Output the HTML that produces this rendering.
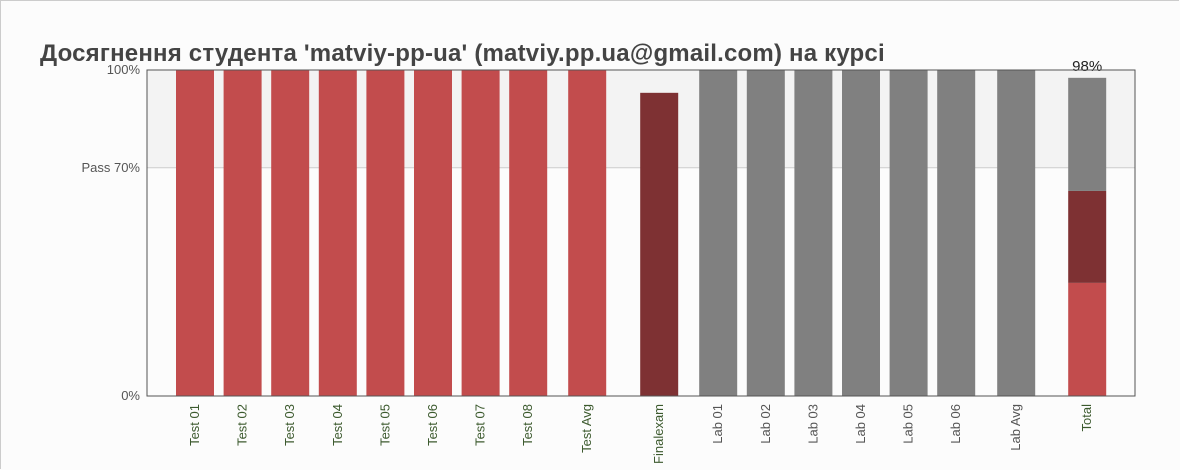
<!DOCTYPE html>
<html><head><meta charset="utf-8"><style>
body{margin:0;background:#fcfcfc;width:1180px;height:470px;overflow:hidden;font-family:"Liberation Sans","DejaVu Sans",sans-serif}
#frame{position:absolute;left:0;top:0;width:1178px;height:468px;border:1px solid #ccc;border-right:none;border-bottom:none}
</style></head><body>
<div id="frame"></div>
<svg id="chart" width="1180" height="470" style="position:absolute;left:0;top:0">
<text x="40" y="61" font-size="24" letter-spacing="0.2" font-weight="bold" fill="#444">Досягнення студента 'matviy-pp-ua' (matviy.pp.ua@gmail.com) на курсі</text>
</svg>
<script>
const categories=["Test 01","Test 02","Test 03","Test 04","Test 05","Test 06","Test 07","Test 08","Test Avg","Finalexam","Lab 01","Lab 02","Lab 03","Lab 04","Lab 05","Lab 06","Lab Avg","Total"];
const groups=["t","t","t","t","t","t","t","t","ta","f","l","l","l","l","l","l","la","tot"];
const values=[100,100,100,100,100,100,100,100,100,93,100,100,100,100,100,100,100,null];
const totalTest=34.7, totalFinal=28.2, totalLab=34.7;
const totalLabel="98%";
const yTicks=[0,70,100];
const yTickLabels=["0%","Pass 70%","100%"];
const NS="http://www.w3.org/2000/svg";
const svg=document.getElementById('chart');
const X0=147,X1=1135,Y0=70,Y1=396;
const y=v=>Y1-(Y1-Y0)*v/100;
const slot=47.6,bw=38;
const gapAfter={ta:11.4,f:24.4,l:11.4,la:12.4,tot:23.4};
const centers=[];let cx=195;
categories.forEach((c,i)=>{if(i>0){cx+=slot;if(groups[i]!==groups[i-1])cx+=gapAfter[groups[i]]||0;}centers.push(cx);});
function el(t,a){const e=document.createElementNS(NS,t);for(const k in a)e.setAttribute(k,a[k]);svg.appendChild(e);return e;}
let e=el('rect',{x:X0,y:Y0,width:X1-X0,height:y(70)-Y0,fill:'#f3f3f3'});


e=el('line',{x1:X0,x2:X1,y1:y(70),y2:y(70),stroke:'#ccc'});


const colors={t:'#c24c4d',ta:'#c24c4d',f:'#7e3133',l:'#808080',la:'#808080'};
categories.forEach((c,i)=>{
  const g=groups[i];const x=centers[i]-bw/2;
  if(g==='tot'){
    let base=0;
    [[totalTest,'#c24c4d','total-test-segment'],[totalFinal,'#7e3133','total-final-segment'],[totalLab,'#808080','total-lab-segment']].forEach(s=>{
      const r=el('rect',{x:x,y:y(base+s[0]),width:bw,height:y(base)-y(base+s[0]),fill:s[1]});
      
      
      base+=s[0];
    });
    const t=el('text',{x:centers[i],y:y(base)-7,'text-anchor':'middle','font-size':15,fill:'#222'});
    t.textContent=totalLabel;
    
    
  } else {
    const r=el('rect',{x:x,y:y(values[i]),width:bw,height:y(0)-y(values[i]),fill:colors[g]});
    
    
  }
  const lc=(g==='l'||g==='la')?'#555':'#3c5a2e';
  const t=el('text',{transform:`translate(${centers[i]+4},404) rotate(-90)`,'text-anchor':'end','font-size':13,fill:lc});
  t.textContent=c;
  
  
});
e=el('rect',{x:X0,y:Y0,width:X1-X0,height:Y1-Y0,fill:'none',stroke:'#555','stroke-width':1});


yTicks.forEach((v,i)=>{
  const t=el('text',{x:140,y:y(v)+4,'text-anchor':'end','font-size':13,fill:'#555'});
  t.textContent=yTickLabels[i];
  
  
});
</script>
</body></html>
